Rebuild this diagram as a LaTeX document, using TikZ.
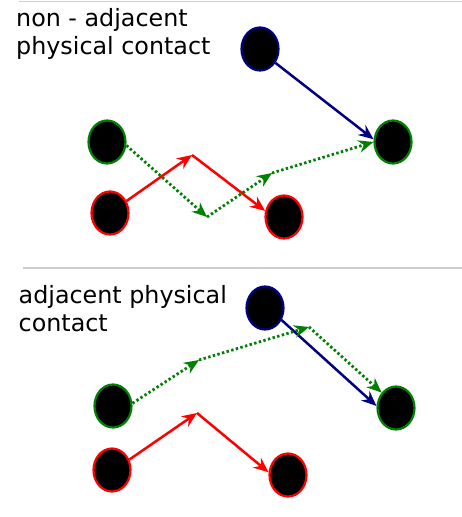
\documentclass[tikz,border=0pt]{standalone}
\usepackage{fontspec}
\setmainfont{DejaVu Sans}
\usetikzlibrary{shapes.geometric,arrows.meta}
\definecolor{dgreen}{RGB}{0,128,0}
\definecolor{navy}{RGB}{0,0,128}
\definecolor{rulegray}{RGB}{205,205,205}
\begin{document}
\begin{tikzpicture}[x=1pt,y=-1pt,
  dot/.style={ellipse,fill=black,line width=2.2pt,minimum width=37pt,minimum height=43pt,inner sep=0pt},
  gdot/.style={dot,draw=dgreen},
  rdot/.style={dot,draw=red},
  bdot/.style={dot,draw=navy},
  tip/.style={-{Stealth[length=15pt,width=12.5pt,inset=5pt]}},
  redline/.style={red,line width=2.5pt,tip},
  blueline/.style={navy,line width=2.5pt,tip},
  greenline/.style={dgreen,line width=2.8pt,dash pattern=on 2.4pt off 2.4pt,tip},
  label/.style={anchor=base west,inner sep=0pt,font=\fontsize{23.8}{27.8}\selectfont,align=left},
  sep/.style={rulegray,line width=1.5pt}]
\useasboundingbox (0,0) rectangle (462,517);
\fill[white] (0,0) rectangle (462,517);
% separators
\coordinate (s1a) at (19,1.5); \coordinate (s1b) at (462,1.5);
\coordinate (s2a) at (23,268); \coordinate (s2b) at (462,268);
\draw[sep] (s1a) -- (s1b);
\draw[sep] (s2a) -- (s2b);
% ---------- top panel ----------
\node[label] (t1) at (16,54.3) {non - adjacent\\physical contact};
\node[bdot] (b1) at (260,49) {};
\node[gdot] (g1) at (107,142) {};
\node[gdot] (g2) at (393,142) {};
\node[rdot] (r1) at (110,213) {};
\node[rdot] (r2) at (284,217) {};
\coordinate (m1) at (192,155);
\coordinate (m2) at (207,217);
\coordinate (m3) at (272,173);
\draw[blueline] (b1.-42) -- (g2.172);
\draw[redline] (r1.36) -- (m1);
\draw[redline] (m1) -- (r2.162);
\draw[greenline] (g1.-10) -- (m2);
\draw[greenline] (m2) -- (m3);
\draw[greenline] (m3) -- (g2.180);
% ---------- bottom panel ----------
\node[label] (t2) at (18.5,331) {adjacent physical\\contact};
\node[bdot] (b2) at (265,308) {};
\node[gdot] (g3) at (113,406) {};
\node[gdot] (g4) at (396,408) {};
\node[rdot] (r3) at (112,470) {};
\node[rdot] (r4) at (288,475) {};
\coordinate (m4) at (199,360);
\coordinate (m5) at (309,327);
\coordinate (m6) at (197,413);
\draw[blueline] (b2.-36) -- (g4.174);
\draw[greenline] (g3.8) -- (m4);
\draw[greenline] (m4) -- (m5);
\draw[greenline] (m5) -- (g4.133);
\draw[redline] (r3.31) -- (m6);
\draw[redline] (m6) -- (r4.172);
\end{tikzpicture}
\end{document}
